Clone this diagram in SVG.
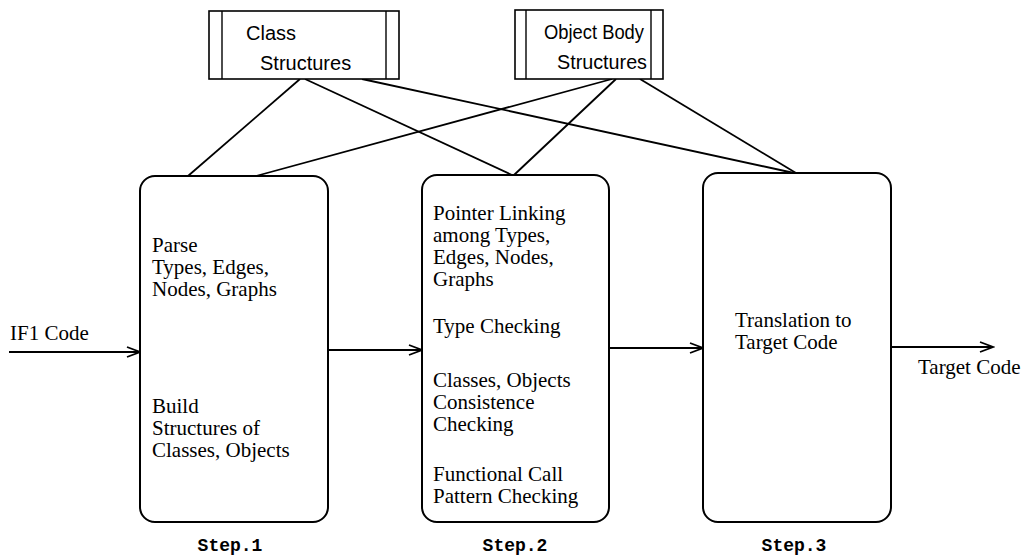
<svg xmlns="http://www.w3.org/2000/svg" width="1033" height="560" viewBox="0 0 1033 560">
<defs>
<style>
.box{fill:#fff;stroke:#000;stroke-width:2}
.store{fill:#fff;stroke:#000;stroke-width:1.6}
.ln{fill:none;stroke:#000;stroke-width:1.8}
.serif{font-family:"Liberation Serif","Times New Roman",serif;font-size:21px;fill:#000}
.sans{font-family:"Liberation Sans",Arial,sans-serif;font-size:20px;fill:#000}
.mono{font-family:"Liberation Mono","Courier New",monospace;font-size:18px;font-weight:bold;fill:#000}
</style>
<marker id="arr" markerWidth="16" markerHeight="12" refX="14" refY="6" orient="auto" markerUnits="userSpaceOnUse">
<path d="M1,1 L14,6 L1,11" fill="none" stroke="#000" stroke-width="1.8"/>
</marker>
</defs>
<g id="connectors">
<line class="ln" x1="300" y1="79" x2="188" y2="176"/>
<line class="ln" x1="305" y1="79" x2="512" y2="175"/>
<line class="ln" x1="362" y1="79" x2="794" y2="173"/>
<line class="ln" x1="612" y1="79" x2="256" y2="176"/>
<line class="ln" x1="616" y1="79" x2="514" y2="175"/>
<line class="ln" x1="640" y1="79" x2="796" y2="173"/>
<line class="ln" x1="9" y1="352" x2="140" y2="352" marker-end="url(#arr)"/>
<line class="ln" x1="328" y1="350" x2="422" y2="350" marker-end="url(#arr)"/>
<line class="ln" x1="609" y1="348" x2="703" y2="348" marker-end="url(#arr)"/>
<line class="ln" x1="891" y1="347" x2="993" y2="347" marker-end="url(#arr)"/>
</g>
<g id="class-structures">
<rect class="store" x="209" y="11" width="190" height="68"/>
<line class="ln" x1="222" y1="11" x2="222" y2="79" style="stroke-width:1.4"/>
<line class="ln" x1="386" y1="11" x2="386" y2="79" style="stroke-width:1.4"/>
<text class="sans" x="246" y="40">Class</text>
<text class="sans" x="260" y="70">Structures</text>
</g>
<g id="object-body-structures">
<rect class="store" x="515" y="10" width="148" height="69"/>
<line class="ln" x1="526" y1="10" x2="526" y2="79" style="stroke-width:1.4"/>
<line class="ln" x1="651" y1="10" x2="651" y2="79" style="stroke-width:1.4"/>
<text class="sans" x="544" y="39" textLength="100" lengthAdjust="spacingAndGlyphs">Object Body</text>
<text class="sans" x="557" y="69" textLength="90" lengthAdjust="spacingAndGlyphs">Structures</text>
</g>
<g id="step1">
<rect class="box" x="140" y="176" width="188" height="346" rx="15" ry="15"/>
<text class="serif" x="152" y="252">Parse</text>
<text class="serif" x="152" y="274">Types, Edges,</text>
<text class="serif" x="152" y="296">Nodes, Graphs</text>
<text class="serif" x="152" y="413">Build</text>
<text class="serif" x="152" y="435">Structures of</text>
<text class="serif" x="152" y="457">Classes, Objects</text>
<text class="mono" x="230" y="551" text-anchor="middle">Step.1</text>
</g>
<g id="step2">
<rect class="box" x="422" y="175" width="187" height="347" rx="15" ry="15"/>
<text class="serif" x="433" y="220">Pointer Linking</text>
<text class="serif" x="433" y="242">among Types,</text>
<text class="serif" x="433" y="264">Edges, Nodes,</text>
<text class="serif" x="433" y="286">Graphs</text>
<text class="serif" x="433" y="333">Type Checking</text>
<text class="serif" x="433" y="387">Classes, Objects</text>
<text class="serif" x="433" y="409">Consistence</text>
<text class="serif" x="433" y="431">Checking</text>
<text class="serif" x="433" y="481">Functional Call</text>
<text class="serif" x="433" y="503">Pattern Checking</text>
<text class="mono" x="515" y="551" text-anchor="middle">Step.2</text>
</g>
<g id="step3">
<rect class="box" x="703" y="173" width="188" height="349" rx="15" ry="15"/>
<text class="serif" x="735" y="327">Translation to</text>
<text class="serif" x="735" y="349">Target Code</text>
<text class="mono" x="794" y="551" text-anchor="middle">Step.3</text>
</g>
<g id="labels">
<text class="serif" x="10" y="340">IF1 Code</text>
<text class="serif" x="918" y="374">Target Code</text>
</g>
</svg>
